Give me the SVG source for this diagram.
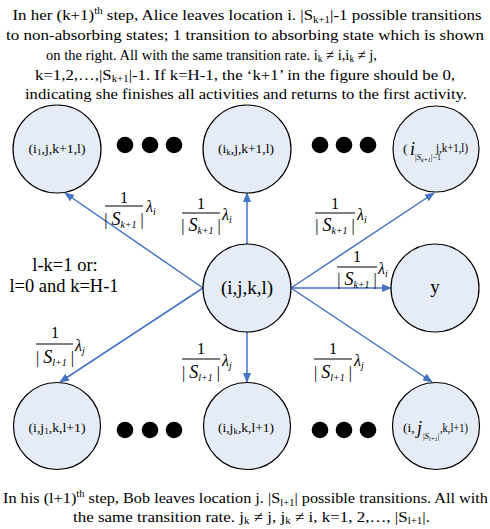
<svg xmlns="http://www.w3.org/2000/svg" width="490" height="529" viewBox="0 0 490 529">
<style>
text{font-family:"Liberation Serif","Times New Roman",serif;fill:#000}
.cap{font-size:15.5px}
.node{fill:#E6ECF6;stroke:#000;stroke-width:1.2}
.dot{fill:#000}
.nl{font-size:13.5px;text-anchor:middle}
.big{font-size:19px;text-anchor:middle}
.num{font-size:16px;text-anchor:middle}
.den{font-size:16px;text-anchor:middle}
.S{font-size:18px;font-style:italic}
.sb{font-size:10px;font-style:italic}
.lam{font-size:16px;font-style:italic}
.bar{stroke:#000;stroke-width:1}
.conn line{stroke:#4472C4;stroke-width:1.5;fill:none;marker-end:url(#ah)}
</style>
<defs>
<marker id="ah" markerUnits="userSpaceOnUse" markerWidth="10" markerHeight="8" refX="9" refY="4" orient="auto">
<path d="M0,0 L10,4 L0,8 z" fill="#4472C4"/>
</marker>
</defs>

<g id="caption-top" class="cap">
<text x="247" y="20" text-anchor="middle" textLength="469" lengthAdjust="spacingAndGlyphs">In her (k+1)<tspan font-size="10" dy="-6">th</tspan><tspan dy="6"> step, Alice leaves location i. |S</tspan><tspan font-size="10" dy="3">k+1</tspan><tspan dy="-3">|-1 possible transitions</tspan></text>
<text x="245" y="40" text-anchor="middle" textLength="478" lengthAdjust="spacingAndGlyphs">to non-absorbing states; 1 transition to absorbing state which is shown</text>
<text x="46" y="60" textLength="331" lengthAdjust="spacingAndGlyphs">on the right. All with the same transition rate. i<tspan font-size="10" dy="2">k</tspan><tspan dy="-2"> ≠ i,i</tspan><tspan font-size="10" dy="2">k</tspan><tspan dy="-2"> ≠ j,</tspan></text>
<text x="245" y="80" text-anchor="middle" textLength="420" lengthAdjust="spacingAndGlyphs">k=1,2,…,|S<tspan font-size="10" dy="2">k+1</tspan><tspan dy="-2">|-1. If k=H-1, the ‘k+1’ in the figure should be 0,</tspan></text>
<text x="246" y="99" text-anchor="middle" textLength="442" lengthAdjust="spacingAndGlyphs">indicating she finishes all activities and returns to the first activity.</text>
</g>

<g id="connectors" class="conn">
<line x1="203" y1="288" x2="65" y2="193"/>
<line x1="247" y1="244" x2="247" y2="193"/>
<line x1="291" y1="288" x2="434" y2="193"/>
<line x1="291" y1="288" x2="391" y2="288"/>
<line x1="291" y1="288" x2="432" y2="382"/>
<line x1="247" y1="332" x2="247" y2="382"/>
<line x1="203" y1="288" x2="60" y2="382"/>
</g>

<g id="n-i1">
<circle class="node" cx="57" cy="149" r="44"/>
<text class="nl" x="57" y="153" textLength="57" lengthAdjust="spacingAndGlyphs">(i<tspan font-size="9" dy="2">1</tspan><tspan dy="-2">,j,k+1,l)</tspan></text>
</g>
<g id="n-ik">
<circle class="node" cx="247" cy="149" r="44"/>
<text class="nl" x="246" y="153" textLength="56" lengthAdjust="spacingAndGlyphs">(i<tspan font-size="9" dy="2">k</tspan><tspan dy="-2">,j,k+1,l)</tspan></text>
</g>
<g id="n-ilast">
<circle class="node" cx="436" cy="149" r="43"/>
<text font-size="13.5" x="403" y="153">(</text>
<text font-size="18" font-style="italic" x="410" y="155">i</text>
<text font-size="8" x="415" y="160">|<tspan font-style="italic" font-size="9">S</tspan><tspan font-style="italic" font-size="6" dy="1.5">k+1</tspan><tspan dy="-1.5">|−1</tspan></text>
<text font-size="13.5" x="436" y="152" textLength="32" lengthAdjust="spacingAndGlyphs">j,k+1,l)</text>
</g>

<g id="dots-top">
<circle class="dot" cx="125" cy="145" r="8.3"/>
<circle class="dot" cx="150" cy="145" r="8.3"/>
<circle class="dot" cx="174" cy="145" r="8.3"/>
<circle class="dot" cx="320" cy="145" r="8.3"/>
<circle class="dot" cx="344" cy="145" r="8.3"/>
<circle class="dot" cx="368" cy="145" r="8.3"/>
</g>

<g id="n-center">
<circle class="node" cx="247" cy="288" r="44"/>
<text class="big" x="247" y="294">(i,j,k,l)</text>
</g>
<g id="n-y">
<circle class="node" cx="435" cy="288" r="44"/>
<text class="big" x="435" y="293">y</text>
</g>

<g id="cond">
<text font-size="18.5" text-anchor="middle" x="65" y="271">l-k=1 or:</text>
<text font-size="18.5" text-anchor="middle" x="64" y="292">l=0 and k=H-1</text>
</g>

<g id="n-j1">
<circle class="node" cx="57" cy="426" r="43.5"/>
<text class="nl" x="57" y="432" textLength="57" lengthAdjust="spacingAndGlyphs">(i,j<tspan font-size="9" dy="2">1</tspan><tspan dy="-2">,k,l+1)</tspan></text>
</g>
<g id="n-jk">
<circle class="node" cx="247" cy="426" r="43.5"/>
<text class="nl" x="246" y="432" textLength="56" lengthAdjust="spacingAndGlyphs">(i,j<tspan font-size="9" dy="2">k</tspan><tspan dy="-2">,k,l+1)</tspan></text>
</g>
<g id="n-jlast">
<circle class="node" cx="436" cy="426" r="43.5"/>
<text font-size="13.5" x="403" y="432">(i,</text>
<text font-size="18" font-style="italic" x="417" y="434">j</text>
<text font-size="8" x="423" y="439">|<tspan font-style="italic" font-size="9">S</tspan><tspan font-style="italic" font-size="6" dy="1.5">l+1</tspan><tspan dy="-1.5">|</tspan></text>
<text font-size="13.5" x="440" y="432" textLength="28" lengthAdjust="spacingAndGlyphs">,k,l+1)</text>
</g>

<g id="dots-bottom">
<circle class="dot" cx="125" cy="430" r="8.3"/>
<circle class="dot" cx="150" cy="430" r="8.3"/>
<circle class="dot" cx="174" cy="430" r="8.3"/>
<circle class="dot" cx="320" cy="430" r="8.3"/>
<circle class="dot" cx="344" cy="430" r="8.3"/>
<circle class="dot" cx="368" cy="430" r="8.3"/>
</g>

<g id="label-a">
<text class="num" x="124" y="203">1</text>
<line class="bar" x1="105" y1="206" x2="143" y2="206"/>
<text class="den" x="124" y="225">| <tspan class="S">S</tspan><tspan class="sb" dy="3">k+1</tspan><tspan dy="-3"> |</tspan></text>
<text class="lam" x="146" y="212">λ<tspan class="sb" dy="3">i</tspan></text>
</g>
<g id="label-b">
<text class="num" x="201" y="209">1</text>
<line class="bar" x1="182" y1="213" x2="220" y2="213"/>
<text class="den" x="201" y="231">| <tspan class="S">S</tspan><tspan class="sb" dy="3">k+1</tspan><tspan dy="-3"> |</tspan></text>
<text class="lam" x="222" y="220">λ<tspan class="sb" dy="3">i</tspan></text>
</g>
<g id="label-c">
<text class="num" x="335" y="209">1</text>
<line class="bar" x1="315" y1="213" x2="355" y2="213"/>
<text class="den" x="335" y="231">| <tspan class="S">S</tspan><tspan class="sb" dy="3">k+1</tspan><tspan dy="-3"> |</tspan></text>
<text class="lam" x="357" y="220">λ<tspan class="sb" dy="3">i</tspan></text>
</g>
<g id="label-d">
<text class="num" x="357" y="262">1</text>
<line class="bar" x1="337" y1="267" x2="377" y2="267"/>
<text class="den" x="357" y="285">| <tspan class="S">S</tspan><tspan class="sb" dy="3">k+1</tspan><tspan dy="-3"> |</tspan></text>
<text class="lam" x="378" y="274">λ<tspan class="sb" dy="3">i</tspan></text>
</g>
<g id="label-e">
<text class="num" x="55" y="338">1</text>
<line class="bar" x1="36" y1="344" x2="73" y2="344"/>
<text class="den" x="55" y="363">| <tspan class="S">S</tspan><tspan class="sb" dy="3">l+1</tspan><tspan dy="-3"> |</tspan></text>
<text class="lam" x="75" y="351">λ<tspan class="sb" dy="3">j</tspan></text>
</g>
<g id="label-f">
<text class="num" x="201" y="354">1</text>
<line class="bar" x1="182" y1="359" x2="220" y2="359"/>
<text class="den" x="201" y="378">| <tspan class="S">S</tspan><tspan class="sb" dy="3">l+1</tspan><tspan dy="-3"> |</tspan></text>
<text class="lam" x="222" y="366">λ<tspan class="sb" dy="3">j</tspan></text>
</g>
<g id="label-g">
<text class="num" x="333" y="354">1</text>
<line class="bar" x1="314" y1="359" x2="352" y2="359"/>
<text class="den" x="333" y="378">| <tspan class="S">S</tspan><tspan class="sb" dy="3">l+1</tspan><tspan dy="-3"> |</tspan></text>
<text class="lam" x="354" y="366">λ<tspan class="sb" dy="3">j</tspan></text>
</g>

<g id="caption-bottom" class="cap">
<text x="245.5" y="503" text-anchor="middle" textLength="485" lengthAdjust="spacingAndGlyphs">In his (l+1)<tspan font-size="10" dy="-6">th</tspan><tspan dy="6"> step, Bob leaves location j. |S</tspan><tspan font-size="10" dy="3">l+1</tspan><tspan dy="-3">| possible transitions. All with</tspan></text>
<text x="73" y="522" textLength="357" lengthAdjust="spacingAndGlyphs">the same transition rate. j<tspan font-size="10" dy="2">k</tspan><tspan dy="-2"> ≠ j, j</tspan><tspan font-size="10" dy="2">k</tspan><tspan dy="-2"> ≠ i, k=1, 2,…, |S</tspan><tspan font-size="10" dy="2">l+1</tspan><tspan dy="-2">|.</tspan></text>
</g>
</svg>
